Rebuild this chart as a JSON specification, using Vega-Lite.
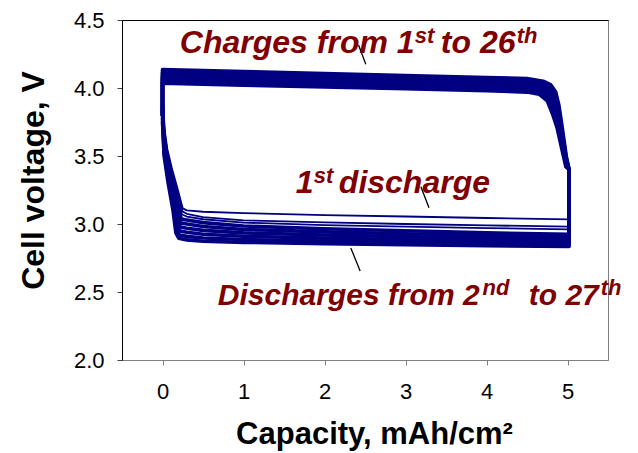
{
"$schema":"https://vega.github.io/schema/vega-lite/v6.json",
"width":486,"height":340,
"autosize":{"type":"none"},
"padding":{"left":122,"top":20,"right":30,"bottom":93},
"background":"white",
"config":{"view":{"stroke":"#808080","strokeWidth":1},"font":"Liberation Sans","axis":{"grid":false}},
"datasets":{
"curves":[
{"s":"c1","t":"b","o":0,"x":0,"y":3.8},{"s":"c1","t":"b","o":1,"x":0,"y":4.135},{"s":"c1","t":"b","o":2,"x":1,"y":4.121},{"s":"c1","t":"b","o":3,"x":2,"y":4.106},{"s":"c1","t":"b","o":4,"x":3,"y":4.092},{"s":"c1","t":"b","o":5,"x":4,"y":4.077},{"s":"c1","t":"b","o":6,"x":4.5,"y":4.07},{"s":"c1","t":"b","o":7,"x":4.7,"y":4.05},{"s":"c1","t":"b","o":8,"x":4.79,"y":4.025},{"s":"c1","t":"b","o":9,"x":4.855,"y":3.97},{"s":"c1","t":"b","o":10,"x":4.895,"y":3.87},{"s":"c1","t":"b","o":11,"x":4.935,"y":3.71},{"s":"c1","t":"b","o":12,"x":4.985,"y":3.5},{"s":"c1","t":"b","o":13,"x":5.02,"y":3.4},
{"s":"c2","t":"b","o":0,"x":0,"y":3.8},{"s":"c2","t":"b","o":1,"x":0,"y":4.114},{"s":"c2","t":"b","o":2,"x":1,"y":4.1},{"s":"c2","t":"b","o":3,"x":2,"y":4.085},{"s":"c2","t":"b","o":4,"x":3,"y":4.071},{"s":"c2","t":"b","o":5,"x":4,"y":4.057},{"s":"c2","t":"b","o":6,"x":4.5,"y":4.049},{"s":"c2","t":"b","o":7,"x":4.69,"y":4.03},{"s":"c2","t":"b","o":8,"x":4.782,"y":4.0},{"s":"c2","t":"b","o":9,"x":4.848,"y":3.936},{"s":"c2","t":"b","o":10,"x":4.89,"y":3.838},{"s":"c2","t":"b","o":11,"x":4.934,"y":3.678},{"s":"c2","t":"b","o":12,"x":4.984,"y":3.484},{"s":"c2","t":"b","o":13,"x":5.02,"y":3.4},
{"s":"c3","t":"b","o":0,"x":0,"y":3.8},{"s":"c3","t":"b","o":1,"x":0,"y":4.094},{"s":"c3","t":"b","o":2,"x":1,"y":4.08},{"s":"c3","t":"b","o":3,"x":2,"y":4.065},{"s":"c3","t":"b","o":4,"x":3,"y":4.052},{"s":"c3","t":"b","o":5,"x":4,"y":4.037},{"s":"c3","t":"b","o":6,"x":4.5,"y":4.029},{"s":"c3","t":"b","o":7,"x":4.68,"y":4.011},{"s":"c3","t":"b","o":8,"x":4.774,"y":3.976},{"s":"c3","t":"b","o":9,"x":4.841,"y":3.902},{"s":"c3","t":"b","o":10,"x":4.885,"y":3.806},{"s":"c3","t":"b","o":11,"x":4.933,"y":3.646},{"s":"c3","t":"b","o":12,"x":4.983,"y":3.468},{"s":"c3","t":"b","o":13,"x":5.02,"y":3.4},
{"s":"c4","t":"b","o":0,"x":0,"y":3.8},{"s":"c4","t":"b","o":1,"x":0,"y":4.074},{"s":"c4","t":"b","o":2,"x":1,"y":4.06},{"s":"c4","t":"b","o":3,"x":2,"y":4.046},{"s":"c4","t":"b","o":4,"x":3,"y":4.032},{"s":"c4","t":"b","o":5,"x":4,"y":4.018},{"s":"c4","t":"b","o":6,"x":4.5,"y":4.009},{"s":"c4","t":"b","o":7,"x":4.67,"y":3.992},{"s":"c4","t":"b","o":8,"x":4.766,"y":3.952},{"s":"c4","t":"b","o":9,"x":4.834,"y":3.868},{"s":"c4","t":"b","o":10,"x":4.88,"y":3.774},{"s":"c4","t":"b","o":11,"x":4.932,"y":3.614},{"s":"c4","t":"b","o":12,"x":4.982,"y":3.452},{"s":"c4","t":"b","o":13,"x":5.02,"y":3.4},
{"s":"c5","t":"b","o":0,"x":0,"y":3.8},{"s":"c5","t":"b","o":1,"x":0,"y":4.054},{"s":"c5","t":"b","o":2,"x":1,"y":4.04},{"s":"c5","t":"b","o":3,"x":2,"y":4.026},{"s":"c5","t":"b","o":4,"x":3,"y":4.013},{"s":"c5","t":"b","o":5,"x":4,"y":3.998},{"s":"c5","t":"b","o":6,"x":4.5,"y":3.989},{"s":"c5","t":"b","o":7,"x":4.66,"y":3.973},{"s":"c5","t":"b","o":8,"x":4.758,"y":3.928},{"s":"c5","t":"b","o":9,"x":4.827,"y":3.834},{"s":"c5","t":"b","o":10,"x":4.875,"y":3.742},{"s":"c5","t":"b","o":11,"x":4.931,"y":3.582},{"s":"c5","t":"b","o":12,"x":4.981,"y":3.436},{"s":"c5","t":"b","o":13,"x":5.02,"y":3.4},
{"s":"c6","t":"b","o":0,"x":0,"y":3.8},{"s":"c6","t":"b","o":1,"x":0,"y":4.035},{"s":"c6","t":"b","o":2,"x":1,"y":4.021},{"s":"c6","t":"b","o":3,"x":2,"y":4.007},{"s":"c6","t":"b","o":4,"x":3,"y":3.994},{"s":"c6","t":"b","o":5,"x":4,"y":3.98},{"s":"c6","t":"b","o":6,"x":4.5,"y":3.97},{"s":"c6","t":"b","o":7,"x":4.65,"y":3.955},{"s":"c6","t":"b","o":8,"x":4.75,"y":3.905},{"s":"c6","t":"b","o":9,"x":4.82,"y":3.8},{"s":"c6","t":"b","o":10,"x":4.87,"y":3.71},{"s":"c6","t":"b","o":11,"x":4.93,"y":3.55},{"s":"c6","t":"b","o":12,"x":4.98,"y":3.42},{"s":"c6","t":"b","o":13,"x":5.02,"y":3.4},
{"s":"d1","t":"n","o":0,"x":5.02,"y":3.4},{"s":"d1","t":"n","o":1,"x":5.02,"y":3.034},{"s":"d1","t":"n","o":2,"x":4,"y":3.044},{"s":"d1","t":"n","o":3,"x":3,"y":3.055},{"s":"d1","t":"n","o":4,"x":2,"y":3.065},{"s":"d1","t":"n","o":5,"x":1,"y":3.08},{"s":"d1","t":"n","o":6,"x":0.5,"y":3.09},{"s":"d1","t":"n","o":7,"x":0.3,"y":3.1},{"s":"d1","t":"n","o":8,"x":0.25,"y":3.115},{"s":"d1","t":"n","o":9,"x":0.19,"y":3.25},{"s":"d1","t":"n","o":10,"x":0.12,"y":3.4},{"s":"d1","t":"n","o":11,"x":0.06,"y":3.55},{"s":"d1","t":"n","o":12,"x":0.02,"y":3.72},{"s":"d1","t":"n","o":13,"x":0,"y":3.95},
{"s":"d2","t":"n","o":0,"x":5.02,"y":3.4},{"s":"d2","t":"n","o":1,"x":5.02,"y":2.98},{"s":"d2","t":"n","o":2,"x":4,"y":2.99},{"s":"d2","t":"n","o":3,"x":3,"y":3.0},{"s":"d2","t":"n","o":4,"x":2,"y":3.012},{"s":"d2","t":"n","o":5,"x":1,"y":3.027},{"s":"d2","t":"n","o":6,"x":0.5,"y":3.05},{"s":"d2","t":"n","o":7,"x":0.3,"y":3.075},{"s":"d2","t":"n","o":8,"x":0.245,"y":3.093},{"s":"d2","t":"n","o":9,"x":0.188,"y":3.218},{"s":"d2","t":"n","o":10,"x":0.121,"y":3.37},{"s":"d2","t":"n","o":11,"x":0.061,"y":3.525},{"s":"d2","t":"n","o":12,"x":0.02,"y":3.698},{"s":"d2","t":"n","o":13,"x":0,"y":3.93},
{"s":"d3","t":"n","o":0,"x":5.02,"y":3.4},{"s":"d3","t":"n","o":1,"x":5.02,"y":2.96},{"s":"d3","t":"n","o":2,"x":4,"y":2.97},{"s":"d3","t":"n","o":3,"x":3,"y":2.98},{"s":"d3","t":"n","o":4,"x":2,"y":2.992},{"s":"d3","t":"n","o":5,"x":1,"y":3.01},{"s":"d3","t":"n","o":6,"x":0.5,"y":3.035},{"s":"d3","t":"n","o":7,"x":0.3,"y":3.055},{"s":"d3","t":"n","o":8,"x":0.24,"y":3.07},{"s":"d3","t":"n","o":9,"x":0.185,"y":3.186},{"s":"d3","t":"n","o":10,"x":0.122,"y":3.34},{"s":"d3","t":"n","o":11,"x":0.062,"y":3.5},{"s":"d3","t":"n","o":12,"x":0.02,"y":3.676},{"s":"d3","t":"n","o":13,"x":0,"y":3.91},
{"s":"b1","t":"b","o":0,"x":5.02,"y":3.4},{"s":"b1","t":"b","o":1,"x":5.02,"y":2.925},{"s":"b1","t":"b","o":2,"x":4,"y":2.935},{"s":"b1","t":"b","o":3,"x":3,"y":2.95},{"s":"b1","t":"b","o":4,"x":2,"y":2.965},{"s":"b1","t":"b","o":5,"x":1,"y":2.985},{"s":"b1","t":"b","o":6,"x":0.5,"y":3.01},{"s":"b1","t":"b","o":7,"x":0.3,"y":3.03},{"s":"b1","t":"b","o":8,"x":0.233,"y":3.036},{"s":"b1","t":"b","o":9,"x":0.181,"y":3.138},{"s":"b1","t":"b","o":10,"x":0.124,"y":3.295},{"s":"b1","t":"b","o":11,"x":0.064,"y":3.463},{"s":"b1","t":"b","o":12,"x":0.02,"y":3.643},{"s":"b1","t":"b","o":13,"x":0,"y":3.88},
{"s":"b2","t":"b","o":0,"x":5.02,"y":3.4},{"s":"b2","t":"b","o":1,"x":5.02,"y":2.906},{"s":"b2","t":"b","o":2,"x":4,"y":2.915},{"s":"b2","t":"b","o":3,"x":3,"y":2.928},{"s":"b2","t":"b","o":4,"x":2,"y":2.942},{"s":"b2","t":"b","o":5,"x":1,"y":2.96},{"s":"b2","t":"b","o":6,"x":0.5,"y":2.982},{"s":"b2","t":"b","o":7,"x":0.3,"y":3.0},{"s":"b2","t":"b","o":8,"x":0.226,"y":3.007},{"s":"b2","t":"b","o":9,"x":0.178,"y":3.096},{"s":"b2","t":"b","o":10,"x":0.125,"y":3.256},{"s":"b2","t":"b","o":11,"x":0.065,"y":3.43},{"s":"b2","t":"b","o":12,"x":0.02,"y":3.614},{"s":"b2","t":"b","o":13,"x":0,"y":3.854},
{"s":"b3","t":"b","o":0,"x":5.02,"y":3.4},{"s":"b3","t":"b","o":1,"x":5.02,"y":2.887},{"s":"b3","t":"b","o":2,"x":4,"y":2.895},{"s":"b3","t":"b","o":3,"x":3,"y":2.907},{"s":"b3","t":"b","o":4,"x":2,"y":2.919},{"s":"b3","t":"b","o":5,"x":1,"y":2.935},{"s":"b3","t":"b","o":6,"x":0.5,"y":2.953},{"s":"b3","t":"b","o":7,"x":0.3,"y":2.969},{"s":"b3","t":"b","o":8,"x":0.22,"y":2.978},{"s":"b3","t":"b","o":9,"x":0.175,"y":3.055},{"s":"b3","t":"b","o":10,"x":0.126,"y":3.217},{"s":"b3","t":"b","o":11,"x":0.066,"y":3.398},{"s":"b3","t":"b","o":12,"x":0.02,"y":3.586},{"s":"b3","t":"b","o":13,"x":0,"y":3.828},
{"s":"b4","t":"b","o":0,"x":5.02,"y":3.4},{"s":"b4","t":"b","o":1,"x":5.02,"y":2.868},{"s":"b4","t":"b","o":2,"x":4,"y":2.875},{"s":"b4","t":"b","o":3,"x":3,"y":2.885},{"s":"b4","t":"b","o":4,"x":2,"y":2.896},{"s":"b4","t":"b","o":5,"x":1,"y":2.91},{"s":"b4","t":"b","o":6,"x":0.5,"y":2.925},{"s":"b4","t":"b","o":7,"x":0.3,"y":2.939},{"s":"b4","t":"b","o":8,"x":0.213,"y":2.948},{"s":"b4","t":"b","o":9,"x":0.172,"y":3.013},{"s":"b4","t":"b","o":10,"x":0.127,"y":3.178},{"s":"b4","t":"b","o":11,"x":0.067,"y":3.365},{"s":"b4","t":"b","o":12,"x":0.02,"y":3.557},{"s":"b4","t":"b","o":13,"x":0,"y":3.802},
{"s":"b5","t":"b","o":0,"x":5.02,"y":3.4},{"s":"b5","t":"b","o":1,"x":5.02,"y":2.85},{"s":"b5","t":"b","o":2,"x":4,"y":2.856},{"s":"b5","t":"b","o":3,"x":3,"y":2.865},{"s":"b5","t":"b","o":4,"x":2,"y":2.874},{"s":"b5","t":"b","o":5,"x":1,"y":2.886},{"s":"b5","t":"b","o":6,"x":0.5,"y":2.897},{"s":"b5","t":"b","o":7,"x":0.3,"y":2.909},{"s":"b5","t":"b","o":8,"x":0.207,"y":2.919},{"s":"b5","t":"b","o":9,"x":0.168,"y":2.972},{"s":"b5","t":"b","o":10,"x":0.129,"y":3.139},{"s":"b5","t":"b","o":11,"x":0.069,"y":3.333},{"s":"b5","t":"b","o":12,"x":0.02,"y":3.529},{"s":"b5","t":"b","o":13,"x":0,"y":3.776},
{"s":"b6","t":"b","o":0,"x":5.02,"y":3.4},{"s":"b6","t":"b","o":1,"x":5.02,"y":2.835},{"s":"b6","t":"b","o":2,"x":4,"y":2.84},{"s":"b6","t":"b","o":3,"x":3,"y":2.847},{"s":"b6","t":"b","o":4,"x":2,"y":2.855},{"s":"b6","t":"b","o":5,"x":1,"y":2.865},{"s":"b6","t":"b","o":6,"x":0.5,"y":2.873},{"s":"b6","t":"b","o":7,"x":0.3,"y":2.883},{"s":"b6","t":"b","o":8,"x":0.2,"y":2.895},{"s":"b6","t":"b","o":9,"x":0.165,"y":2.935},{"s":"b6","t":"b","o":10,"x":0.13,"y":3.1},{"s":"b6","t":"b","o":11,"x":0.07,"y":3.3},{"s":"b6","t":"b","o":12,"x":0.02,"y":3.5},{"s":"b6","t":"b","o":13,"x":0,"y":3.75}
],
"labels":[
{"txt":"Charges from 1","x":0.214,"y":4.257,"p":"L"},
{"txt":"st","x":3.115,"y":4.33,"p":"s"},
{"txt":"to 26","x":3.436,"y":4.257,"p":"L"},
{"txt":"th","x":4.373,"y":4.33,"p":"s"},
{"txt":"1","x":1.646,"y":3.228,"p":"L"},
{"txt":"st","x":1.868,"y":3.3,"p":"s"},
{"txt":"discharge","x":2.177,"y":3.228,"p":"L"},
{"txt":"Discharges from 2","x":0.683,"y":2.404,"p":"M"},
{"txt":"nd","x":3.95,"y":2.476,"p":"s"},
{"txt":"to 27","x":4.522,"y":2.404,"p":"M"},
{"txt":"th","x":5.411,"y":2.476,"p":"s"}
],
"pointers":[
{"x":2.42,"y":4.316,"x2":2.51,"y2":4.174},
{"x":3.19,"y":3.274,"x2":3.29,"y2":3.12},
{"x":2.325,"y":2.824,"x2":2.44,"y2":2.654}
]
},
"layer":[
{"data":{"name":"curves"},"transform":[{"filter":"datum.t === 'b'"}],
 "mark":{"type":"line","color":"#000080","strokeWidth":3.6,"strokeJoin":"round","strokeCap":"round"},
 "encoding":{
  "x":{"field":"x","type":"quantitative","scale":{"domain":[-0.5,5.5],"nice":false,"zero":false},
       "axis":{"orient":"bottom","values":[0,1,2,3,4,5],"format":"d","domainColor":"#808080","domainWidth":1,"tickColor":"#808080","tickSize":5,"labelFontSize":22,"labelColor":"black","labelFont":"Liberation Sans","labelPadding":16,"labelOverlap":false,"labelFlush":false,"title":"Capacity, mAh/cm²","titleFont":"Liberation Sans","titleFontSize":31,"titleFontWeight":"bold","titleColor":"black","titlePadding":17,"titleX":252}},
  "y":{"field":"y","type":"quantitative","scale":{"domain":[2,4.5],"nice":false,"zero":false},
       "axis":{"orient":"left","values":[2,2.5,3,3.5,4,4.5],"format":".1f","domainColor":"black","domainWidth":1,"tickColor":"#404040","tickSize":5,"labelFontSize":22,"labelColor":"black","labelFont":"Liberation Sans","labelPadding":13,"labelOverlap":false,"labelFlush":false,"title":"Cell voltage, V","titleFont":"Liberation Sans","titleFontSize":32,"titleFontWeight":"bold","titleColor":"black","titlePadding":23,"titleY":160}},
  "detail":{"field":"s","type":"nominal"},
  "order":{"field":"o","type":"quantitative"}}},
{"data":{"name":"curves"},"transform":[{"filter":"datum.t === 'n'"}],
 "mark":{"type":"line","color":"#000080","strokeWidth":1.8,"strokeJoin":"round"},
 "encoding":{
  "x":{"field":"x","type":"quantitative","axis":null},
  "y":{"field":"y","type":"quantitative"},
  "detail":{"field":"s","type":"nominal"},
  "order":{"field":"o","type":"quantitative"}}},
{"data":{"name":"pointers"},
 "mark":{"type":"rule","color":"black","strokeWidth":1.3},
 "encoding":{
  "x":{"field":"x","type":"quantitative","axis":{"orient":"top","labels":false,"ticks":false,"title":null,"domainColor":"black","domainWidth":1}},
  "y":{"field":"y","type":"quantitative"},
  "x2":{"field":"x2"},"y2":{"field":"y2"}}},
{"data":{"name":"labels"},"transform":[{"filter":"datum.p === 'L'"}],
 "mark":{"type":"text","align":"left","baseline":"alphabetic","font":"Liberation Sans","fontSize":32,"fontWeight":"bold","fontStyle":"italic","color":"#800000"},
 "encoding":{
  "x":{"field":"x","type":"quantitative","axis":null},
  "y":{"field":"y","type":"quantitative"},
  "text":{"field":"txt","type":"nominal"}}},
{"data":{"name":"labels"},"transform":[{"filter":"datum.p === 'M'"}],
 "mark":{"type":"text","align":"left","baseline":"alphabetic","font":"Liberation Sans","fontSize":30,"fontWeight":"bold","fontStyle":"italic","color":"#800000"},
 "encoding":{
  "x":{"field":"x","type":"quantitative","axis":null},
  "y":{"field":"y","type":"quantitative"},
  "text":{"field":"txt","type":"nominal"}}},
{"data":{"name":"labels"},"transform":[{"filter":"datum.p === 's'"}],
 "mark":{"type":"text","align":"left","baseline":"alphabetic","font":"Liberation Sans","fontSize":22,"fontWeight":"bold","fontStyle":"italic","color":"#800000"},
 "encoding":{
  "x":{"field":"x","type":"quantitative","axis":null},
  "y":{"field":"y","type":"quantitative"},
  "text":{"field":"txt","type":"nominal"}}}
],
"resolve":{"axis":{"x":"independent"}}
}
